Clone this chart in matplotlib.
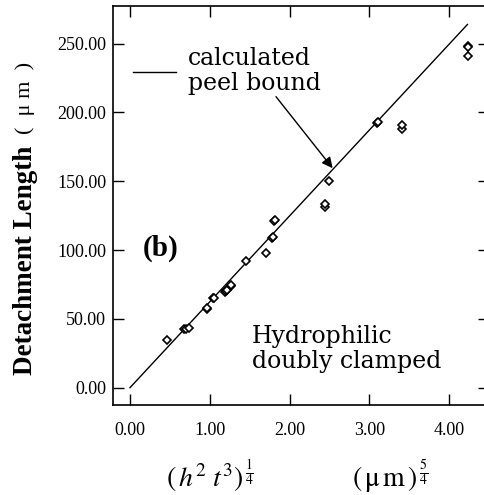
import matplotlib
matplotlib.use("Agg")
import matplotlib.pyplot as plt

plt.rcParams['mathtext.fontset'] = 'stix'

# data
x_pts = [0.47, 0.68, 0.70, 0.74, 0.96, 0.97, 1.045, 1.05, 1.19, 1.20, 1.22,
         1.26, 1.27, 1.46, 1.71, 1.78, 1.79, 1.81, 1.82, 2.44, 2.44, 2.50,
         3.10, 3.11, 3.41, 3.41, 4.24, 4.24, 4.24]
y_pts = [35.0, 43.0, 42.5, 43.6, 57.4, 58.0, 65.0, 65.5, 69.5, 70.5, 71.0,
         74.0, 74.5, 92.0, 98.0, 108.8, 109.5, 121.0, 121.8, 131.0, 133.5, 150.2,
         192.4, 193.0, 188.2, 190.7, 248.5, 247.5, 241.0]
line_x = [0.0, 4.23]
line_y = [0.0, 264.0]
xticks = [0, 1, 2, 3, 4]
xtick_labels = ['0.00', '1.00', '2.00', '3.00', '4.00']
yticks = [0, 50, 100, 150, 200, 250]
ytick_labels = ['0.00', '50.00', '100.00', '150.00', '200.00', '250.00']

fig = plt.figure(figsize=(4.85, 4.95), dpi=100)
ax = fig.add_axes([113/485, 1-405/495, (489-113)/485, (405-6)/495])
ax.set_xlim(-0.213, 4.50)
ax.set_ylim(-12.6, 277.4)

ax.plot(line_x, line_y, color='black', lw=1.0, label='calculated\npeel bound')
ax.plot(x_pts, y_pts, linestyle='none', marker='D', ms=4.5, mfc='white',
        mec='black', mew=1.2)

serif = ['Liberation Serif', 'DejaVu Serif']
ax.set_xticks(xticks)
ax.set_xticklabels(xtick_labels, family=serif, fontsize=13)
ax.set_yticks(yticks)
ax.set_yticklabels(ytick_labels, family=serif, fontsize=13)
ax.tick_params(direction='in', top=True, right=True, length=8, width=1.0)
ax.tick_params(axis='x', pad=12)
ax.tick_params(axis='y', pad=5)
for s in ax.spines.values():
    s.set_linewidth(1.2)

leg = ax.legend(loc='upper left', bbox_to_anchor=(0.053, 0.897), frameon=False,
                handlelength=1.82, handletextpad=0.5, borderaxespad=0,
                borderpad=0, prop={'family': 'DejaVu Serif', 'size': 17})
for t in leg.get_texts():
    t.set_linespacing(1.1)

ax.annotate('', xy=(2.54, 159.5), xytext=(1.83, 211.5),
            arrowprops=dict(arrowstyle='-|>', color='black', lw=1.0,
                            mutation_scale=16, shrinkA=0, shrinkB=0))

ax.text(0.16, 101, '(b)', family=serif, fontsize=21, fontweight='bold',
        ha='left', va='center')
ax.text(1.53, 28, 'Hydrophilic\ndoubly clamped', family='DejaVu Serif',
        fontsize=17, ha='left', va='center', linespacing=1.1)

fig.text(0.052, 1-260/495, 'Detachment Length', rotation=90, family=serif,
         fontsize=19.5, fontweight='bold', ha='center', va='center')
fig.text(0.052, 1-98/495, '(  μ m  )', rotation=90, family=serif,
         fontsize=16, ha='center', va='center')

fig.text(210/485, 1-476/495, r'$(\,h^2\; t^3)^{\,\frac{1}{4}}$', fontsize=20,
         ha='center', va='center')
fig.text(390/485, 1-476/495, r'$(\,\mathrm{\mu\, m}\,)^{\,\frac{5}{4}}$',
         fontsize=20, ha='center', va='center')

fig.savefig('out.png', dpi=100)
